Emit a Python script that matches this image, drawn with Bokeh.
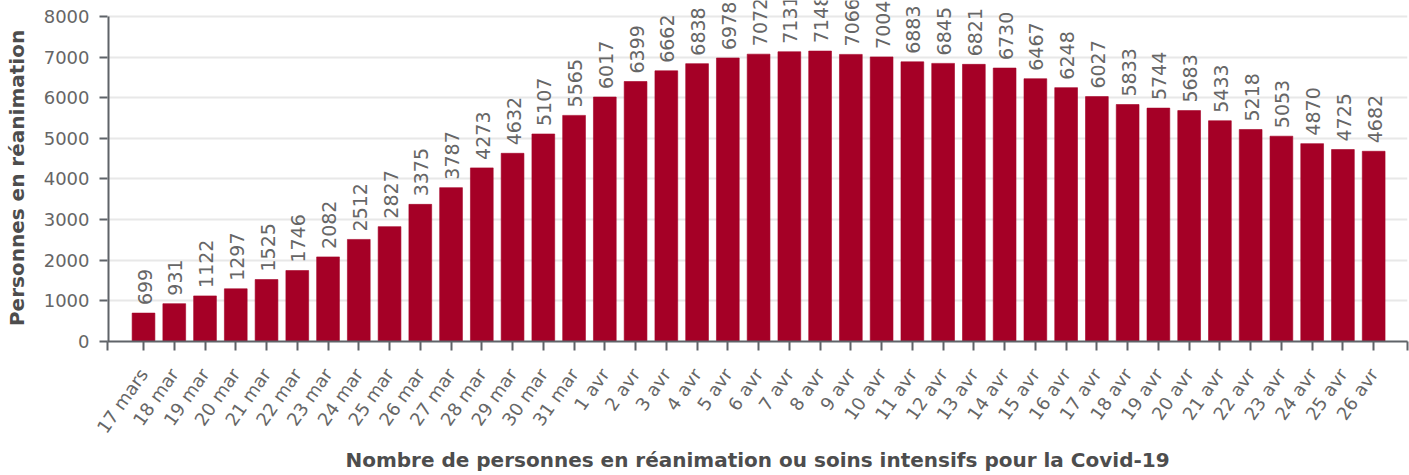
import math
from bokeh.plotting import figure
from bokeh.models import ColumnDataSource, Range1d, FixedTicker
from bokeh.core.properties import value
from bokeh.embed import file_html
from bokeh.resources import INLINE

days = ["17 mars"] + [f"{d} mar" for d in range(18, 32)] + [f"{d} avr" for d in range(1, 27)]
patients = [699, 931, 1122, 1297, 1525, 1746, 2082, 2512, 2827, 3375, 3787, 4273, 4632,
            5107, 5565, 6017, 6399, 6662, 6838, 6978, 7072, 7131, 7148, 7066, 7004, 6883,
            6845, 6821, 6730, 6467, 6248, 6027, 5833, 5744, 5683, 5433, 5218, 5053, 4870,
            4725, 4682]
y_ticks = [0, 1000, 2000, 3000, 4000, 5000, 6000, 7000, 8000]

FONT = "DejaVu Sans"
BAR = "#a50026"
GREY = "#666666"
AXIS = "#5f6368"
TITLE = "#4d4d4d"

idx = list(range(len(days)))
src = ColumnDataSource(dict(x=idx, top=patients, label=[str(v) for v in patients]))

x_lo, x_hi = -1.171, 41.1
y_max = y_ticks[-1]
y_top = y_max * 342 / 326  # headroom above the last tick so value labels are not clipped

p = figure(width=1409, height=475, output_backend="svg", toolbar_location=None,
           x_range=Range1d(x_lo, x_hi), y_range=Range1d(0, y_top),
           min_border_left=107, min_border_top=0, min_border_bottom=133, min_border_right=2)
p.outline_line_color = None

p.vbar(x="x", top="top", width=0.74, source=src, fill_color=BAR, line_color=BAR, line_alpha=0.6)
p.text(x="x", y="top", text="label", source=src, angle=math.pi / 2,
       text_align="left", text_baseline="middle", y_offset=-8, x_offset=1,
       text_font=value(FONT), text_font_size="19px", text_color=GREY)

# y axis line only up to the last tick
p.segment(x0=[x_lo], y0=[0], x1=[x_lo], y1=[y_max], line_color=AXIS, line_width=4)

# x axis
p.xaxis.ticker = FixedTicker(ticks=[x_lo] + idx + [x_hi])
overrides = {i: d for i, d in zip(idx, days)}
overrides[x_lo] = ""
overrides[x_hi] = ""
p.xaxis.major_label_overrides = overrides
p.xaxis.major_label_orientation = math.radians(55)
p.xaxis.minor_tick_line_color = None
p.xaxis.major_tick_in = 0
p.xaxis.major_tick_out = 9
p.xaxis.major_tick_line_color = AXIS
p.xaxis.major_tick_line_width = 2
p.xaxis.axis_line_color = AXIS
p.xaxis.axis_line_width = 2
p.xaxis.major_label_text_font = FONT
p.xaxis.major_label_text_font_size = "18px"
p.xaxis.major_label_text_color = GREY
p.xaxis.major_label_standoff = 20
p.xaxis.axis_label = "Nombre de personnes en réanimation ou soins intensifs pour la Covid-19"
p.xaxis.axis_label_text_font = FONT
p.xaxis.axis_label_text_font_size = "20px"
p.xaxis.axis_label_text_font_style = "bold"
p.xaxis.axis_label_text_color = TITLE
p.xaxis.axis_label_standoff = 2

# y axis
p.yaxis.ticker = FixedTicker(ticks=y_ticks)
p.yaxis.minor_tick_line_color = None
p.yaxis.major_tick_in = 0
p.yaxis.major_tick_out = 8
p.yaxis.major_tick_line_color = AXIS
p.yaxis.major_tick_line_width = 2
p.yaxis.axis_line_color = None
p.yaxis.major_label_text_font = FONT
p.yaxis.major_label_text_font_size = "18px"
p.yaxis.major_label_text_color = GREY
p.yaxis.major_label_standoff = 10
p.yaxis.axis_label = "Personnes en réanimation\u00a0\u00a0"
p.yaxis.axis_label_text_font = FONT
p.yaxis.axis_label_text_font_size = "20px"
p.yaxis.axis_label_text_font_style = "bold"
p.yaxis.axis_label_text_color = TITLE
p.yaxis.axis_label_standoff = 12

p.xgrid.grid_line_color = None
p.ygrid.grid_line_color = "#e8e8e8"
p.ygrid.grid_line_width = 2

open("out.html", "w").write(file_html(p, INLINE))
